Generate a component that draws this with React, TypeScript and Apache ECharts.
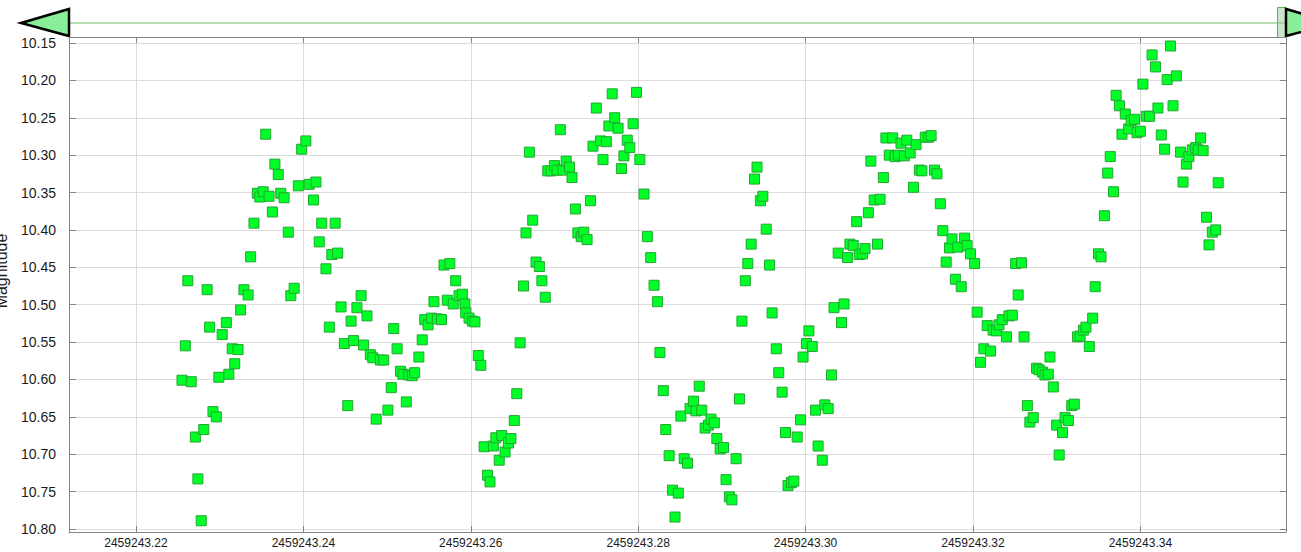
import React, { useEffect, useRef } from "react";
import * as echarts from "echarts";

const JD_BASE = 2459243;
const JD_FRAC = [
  0.2255, 0.2259, 0.2262, 0.2266, 0.2271, 0.2274, 0.2278, 0.2281, 0.2285, 0.2288,
  0.2292, 0.2296, 0.2299, 0.2303, 0.2308, 0.2311, 0.2315, 0.2318, 0.2322, 0.2325,
  0.2329, 0.2334, 0.2337, 0.2341, 0.2345, 0.2348, 0.2352, 0.2355, 0.2359, 0.2363,
  0.2366, 0.237, 0.2373, 0.2377, 0.2382, 0.2385, 0.2389, 0.2394, 0.2398, 0.2403,
  0.2407, 0.2412, 0.2415, 0.2419, 0.2422, 0.2427, 0.2431, 0.2434, 0.2438, 0.2441,
  0.2445, 0.2449, 0.2453, 0.2457, 0.246, 0.2464, 0.2469, 0.2472, 0.2476, 0.248,
  0.2483, 0.2487, 0.2492, 0.2496, 0.2501, 0.2505, 0.2508, 0.2512, 0.2516, 0.2519,
  0.2523, 0.2526, 0.253, 0.2533, 0.2538, 0.2542, 0.2545, 0.2549, 0.2553, 0.2556,
  0.256, 0.2565, 0.2568, 0.2572, 0.2575, 0.2579, 0.2582, 0.2586, 0.259, 0.2593,
  0.2594, 0.2598, 0.2602, 0.2605, 0.2609, 0.2612, 0.2616, 0.262, 0.2623, 0.2627,
  0.263, 0.2634, 0.2637, 0.2641, 0.2645, 0.2648, 0.2652, 0.2655, 0.2659, 0.2663,
  0.2666, 0.267, 0.2674, 0.2678, 0.2682, 0.2685, 0.2689, 0.2692, 0.2696, 0.27,
  0.2703, 0.2707, 0.271, 0.2714, 0.2718, 0.2721, 0.2725, 0.2728, 0.2732, 0.2735,
  0.2739, 0.2743, 0.2746, 0.275, 0.2755, 0.2758, 0.2762, 0.2765, 0.2769, 0.2772,
  0.2776, 0.278, 0.2783, 0.2787, 0.279, 0.2794, 0.2798, 0.2802, 0.2807, 0.2811,
  0.2815, 0.2819, 0.2823, 0.2826, 0.283, 0.2833, 0.2837, 0.2841, 0.2844, 0.2848,
  0.2851, 0.2855, 0.2859, 0.2862, 0.2866, 0.2869, 0.2873, 0.2876, 0.288, 0.2884,
  0.2887, 0.2891, 0.2894, 0.2898, 0.2902, 0.2905, 0.2909, 0.2912, 0.2917, 0.2921,
  0.2924, 0.2928, 0.2931, 0.2935, 0.2939, 0.2942, 0.2946, 0.2949, 0.2953, 0.2957,
  0.296, 0.2965, 0.2968, 0.2972, 0.2976, 0.2979, 0.2983, 0.2986, 0.299, 0.2994,
  0.2997, 0.3001, 0.3004, 0.3008, 0.3012, 0.3015, 0.302, 0.3023, 0.3027, 0.3031,
  0.3034, 0.3039, 0.3043, 0.3046, 0.305, 0.3053, 0.3057, 0.3061, 0.3064, 0.3068,
  0.3071, 0.3075, 0.3078, 0.3082, 0.3086, 0.3089, 0.3093, 0.3096, 0.31, 0.3104,
  0.3107, 0.3111, 0.3114, 0.3118, 0.3121, 0.3125, 0.3129, 0.3132, 0.3136, 0.3139,
  0.3143, 0.3147, 0.315, 0.3154, 0.3157, 0.3161, 0.3164, 0.3168, 0.3172, 0.3175,
  0.3179, 0.3182, 0.3186, 0.319, 0.3193, 0.3197, 0.3202, 0.3205, 0.3209, 0.3213,
  0.3217, 0.3221, 0.3224, 0.3228, 0.3231, 0.3235, 0.324, 0.3243, 0.3247, 0.3251,
  0.3254, 0.3258, 0.3261, 0.3265, 0.3268, 0.3272, 0.3276, 0.3279, 0.3283, 0.3286,
  0.329, 0.3292, 0.3296, 0.33, 0.3303, 0.3307, 0.331, 0.3314, 0.3318, 0.3321,
  0.3325, 0.3328, 0.3332, 0.3335, 0.3339, 0.3343, 0.3346, 0.335, 0.3353, 0.3357,
  0.3361, 0.3364, 0.3368, 0.3371, 0.3375, 0.3378, 0.3382, 0.3386, 0.3389, 0.3393,
  0.3396, 0.34, 0.3403, 0.3407, 0.3411, 0.3414, 0.3418, 0.3421, 0.3425, 0.3429,
  0.3432, 0.3436, 0.3439, 0.3443, 0.3448, 0.3451, 0.3455, 0.3458, 0.3462, 0.3466,
  0.3469, 0.3472, 0.3475, 0.3479, 0.3482, 0.3486, 0.349, 0.3493,
];
const MAG = [
  10.601, 10.555, 10.468, 10.603, 10.677, 10.733, 10.789, 10.667, 10.48, 10.53,
  10.643, 10.65, 10.597, 10.54, 10.524, 10.593, 10.559, 10.579, 10.56, 10.507,
  10.48, 10.487, 10.436, 10.391, 10.351, 10.356, 10.349, 10.272, 10.355, 10.376,
  10.312, 10.326, 10.351, 10.357, 10.403, 10.488, 10.478, 10.341, 10.292, 10.281,
  10.339, 10.36, 10.336, 10.416, 10.391, 10.452, 10.53, 10.433, 10.391, 10.431,
  10.503, 10.552, 10.635, 10.522, 10.548, 10.504, 10.488, 10.554, 10.515, 10.567,
  10.571, 10.653, 10.574, 10.574, 10.641, 10.611, 10.532, 10.559, 10.589, 10.593,
  10.63, 10.594, 10.595, 10.591, 10.57, 10.547, 10.52, 10.527, 10.518, 10.496,
  10.519, 10.52, 10.447, 10.494, 10.445, 10.499, 10.468, 10.488, 10.486, 10.499,
  10.511, 10.518, 10.522, 10.523, 10.568, 10.581, 10.69, 10.728, 10.737, 10.689,
  10.678, 10.708, 10.675, 10.697, 10.685, 10.679, 10.655, 10.619, 10.551, 10.475,
  10.404, 10.296, 10.387, 10.443, 10.449, 10.468, 10.49, 10.321, 10.321, 10.314,
  10.32, 10.266, 10.32, 10.308, 10.316, 10.33, 10.372, 10.404, 10.409, 10.403,
  10.413, 10.361, 10.288, 10.237, 10.281, 10.306, 10.282, 10.261, 10.218, 10.25,
  10.264, 10.318, 10.301, 10.28, 10.29, 10.258, 10.216, 10.306, 10.352, 10.409,
  10.437, 10.474, 10.496, 10.564, 10.615, 10.667, 10.702, 10.748, 10.784, 10.752,
  10.649, 10.706, 10.712, 10.639, 10.629, 10.642, 10.609, 10.641, 10.665, 10.661,
  10.653, 10.658, 10.679, 10.693, 10.691, 10.734, 10.757, 10.761, 10.706, 10.626,
  10.522, 10.468, 10.445, 10.419, 10.332, 10.316, 10.361, 10.355, 10.399, 10.447,
  10.511, 10.559, 10.591, 10.617, 10.671, 10.742, 10.738, 10.736, 10.677, 10.654,
  10.57, 10.552, 10.535, 10.556, 10.641, 10.689, 10.708, 10.634, 10.639, 10.594,
  10.504, 10.431, 10.524, 10.499, 10.437, 10.419, 10.421, 10.389, 10.433, 10.432,
  10.425, 10.377, 10.308, 10.36, 10.419, 10.359, 10.33, 10.277, 10.3, 10.277,
  10.302, 10.3, 10.284, 10.301, 10.28, 10.297, 10.343, 10.286, 10.32, 10.321,
  10.276, 10.276, 10.274, 10.32, 10.325, 10.365, 10.401, 10.443, 10.424, 10.412,
  10.466, 10.423, 10.476, 10.411, 10.421, 10.432, 10.445, 10.51, 10.577, 10.559,
  10.528, 10.562, 10.534, 10.535, 10.527, 10.52, 10.543, 10.515, 10.514, 10.445,
  10.487, 10.444, 10.543, 10.635, 10.657, 10.651, 10.585, 10.587, 10.59, 10.594,
  10.593, 10.57, 10.61, 10.661, 10.701, 10.671, 10.651, 10.655, 10.635, 10.633,
  10.543, 10.542, 10.534, 10.53, 10.556, 10.518, 10.476, 10.432, 10.436, 10.381,
  10.324, 10.302, 10.349, 10.22, 10.234, 10.272, 10.245, 10.265, 10.254, 10.252,
  10.27, 10.268, 10.205, 10.248, 10.248, 10.166, 10.182, 10.237, 10.273, 10.292,
  10.199, 10.154, 10.234, 10.194, 10.296, 10.336, 10.312, 10.302, 10.293, 10.29,
  10.293, 10.277, 10.294, 10.383, 10.42, 10.403, 10.4, 10.337,
];
const X_TICKS = [2459243.22, 2459243.24, 2459243.26, 2459243.28, 2459243.3, 2459243.32, 2459243.34];
const Y_TICKS = [10.15, 10.2, 10.25, 10.3, 10.35, 10.4, 10.45, 10.5, 10.55, 10.6, 10.65, 10.7, 10.75, 10.8];
const X_MIN = 2459243.212;
const X_MAX = 2459243.3574;
const Y_MIN = 10.142;
const Y_MAX = 10.804;
const Y_NAME = "Magnitude";

const FONT = "Liberation Sans, Arial, sans-serif";

export default function App() {
  const ref = useRef<HTMLDivElement>(null);
  useEffect(() => {
    if (!ref.current) return;
    const chart = echarts.init(ref.current, undefined, { renderer: "svg" });
    const data = JD_FRAC.map((f, i) => [JD_BASE + f, MAG[i]]);
    const axisLine = { show: true, lineStyle: { color: "#858585", width: 1 } };
    const tickStyle = { color: "#858585", width: 1 };
    chart.setOption({
      animation: false,
      backgroundColor: "#ffffff",
      grid: { left: 69, right: 15, top: 37, bottom: 20, containLabel: false, outerBoundsMode: "none" },
      xAxis: [
        {
          type: "value",
          position: "bottom",
          min: X_MIN,
          max: X_MAX,
          axisLine,
          axisTick: { show: true, inside: true, length: 6, customValues: X_TICKS, lineStyle: tickStyle },
          axisLabel: {
            customValues: X_TICKS,
            formatter: (v: number) => v.toFixed(2),
            fontSize: 12,
            fontFamily: FONT,
            color: "#1a1a1a",
            margin: 5,
          },
          splitLine: { show: true, lineStyle: { color: "#dcdcdc", width: 1 } },
        },
        {
          type: "value",
          position: "top",
          min: X_MIN,
          max: X_MAX,
          axisLine,
          axisTick: { show: true, inside: true, length: 6, customValues: X_TICKS, lineStyle: tickStyle },
          axisLabel: { show: false },
          splitLine: { show: false },
        },
      ],
      yAxis: [
        {
          type: "value",
          position: "left",
          inverse: true,
          min: Y_MIN,
          max: Y_MAX,
          axisLine,
          axisTick: { show: true, inside: true, length: 7, customValues: Y_TICKS, lineStyle: tickStyle },
          axisLabel: {
            customValues: Y_TICKS,
            formatter: (v: number) => v.toFixed(2),
            fontSize: 14,
            fontFamily: FONT,
            color: "#1a1a1a",
            margin: 13,
          },
          splitLine: { show: true, lineStyle: { color: "#dcdcdc", width: 1 } },
        },
        {
          type: "value",
          position: "right",
          inverse: true,
          min: Y_MIN,
          max: Y_MAX,
          axisLine,
          axisTick: { show: true, inside: true, length: 6, customValues: Y_TICKS, lineStyle: tickStyle },
          axisLabel: { show: false },
          splitLine: { show: false },
        },
      ],
      series: [
        {
          type: "scatter",
          xAxisIndex: 0,
          yAxisIndex: 0,
          symbol: "rect",
          symbolSize: 10,
          data,
          itemStyle: {
            color: "#00ff26",
            borderColor: "#22a531",
            borderWidth: 1,
            opacity: 1,
          },
        },
      ],
      graphic: [
        {
          type: "line",
          shape: { x1: 69, y1: 23, x2: 1277, y2: 23 },
          style: { stroke: "#b3e0b3", lineWidth: 2 },
          silent: true,
        },
        {
          type: "rect",
          shape: { x: 1277.5, y: 7.5, width: 8.5, height: 30 },
          style: { fill: "rgba(150,205,150,0.5)", stroke: "#56b456", lineWidth: 1 },
          silent: true,
        },
        {
          type: "line",
          shape: { x1: 1278, y1: 23, x2: 1286, y2: 23 },
          style: { stroke: "#9fcc9f", lineWidth: 1.5 },
          silent: true,
        },
        {
          type: "polygon",
          shape: { points: [[69, 9], [69, 36], [21, 23]] },
          style: { fill: "#88ee99", stroke: "#000000", lineWidth: 2.5, lineJoin: "miter" },
          silent: true,
        },
        {
          type: "polygon",
          shape: { points: [[1286, 9], [1286, 36], [1334, 23]] },
          style: { fill: "#88ee99", stroke: "#000000", lineWidth: 2.5, lineJoin: "miter" },
          silent: true,
        },
        {
          type: "text",
          x: 1,
          y: 271,
          rotation: Math.PI / 2,
          style: {
            text: Y_NAME,
            fontSize: 16,
            fontFamily: FONT,
            fill: "#1a1a1a",
            align: "center",
            verticalAlign: "middle",
          },
          silent: true,
        },
      ],
    });
    return () => chart.dispose();
  }, []);
  return <div ref={ref} style={{ width: 1301, height: 552, position: "absolute", left: 0, top: 0 }} />;
}
